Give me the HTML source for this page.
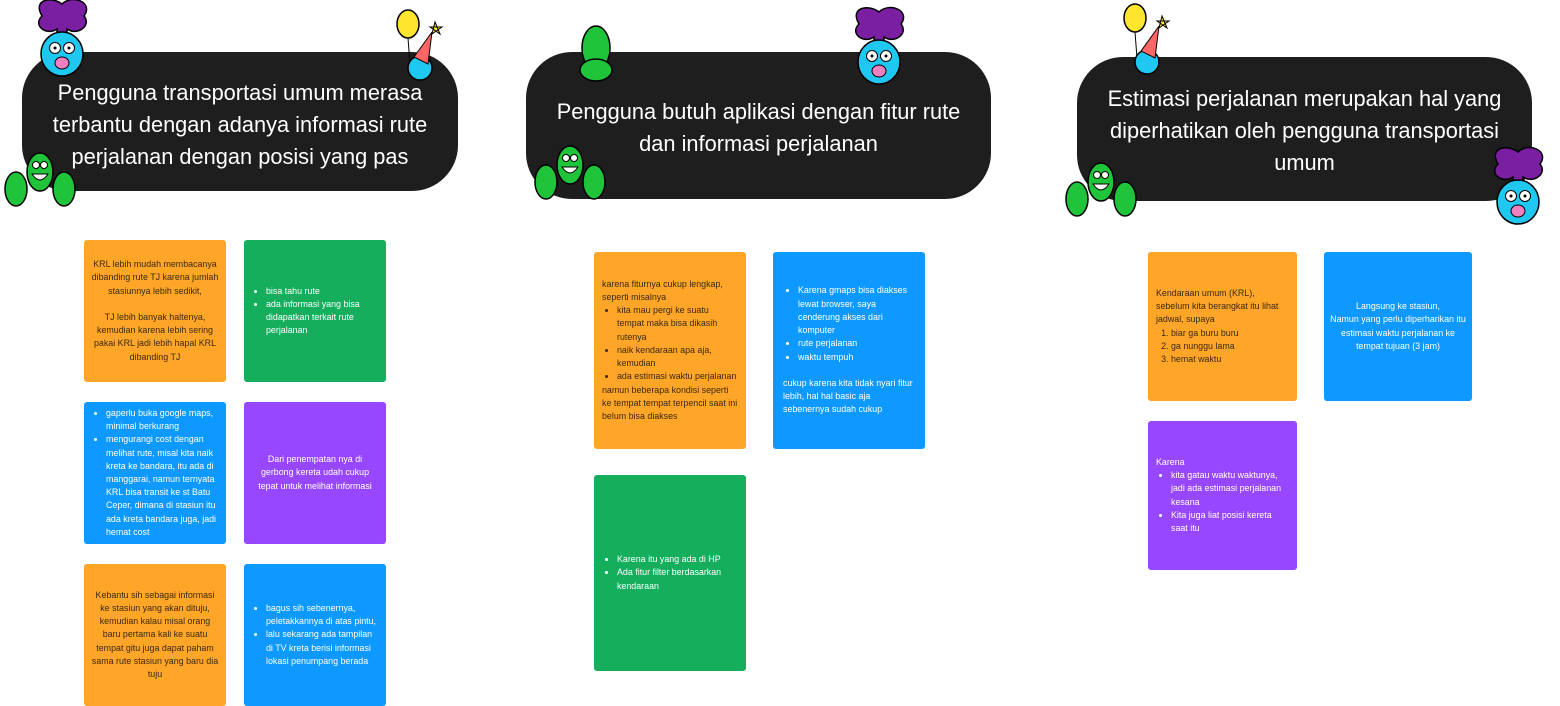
<!DOCTYPE html>
<html><head><meta charset="utf-8"><style>
*{margin:0;padding:0;box-sizing:border-box}
body{width:1560px;height:706px;background:#fff;position:relative;overflow:hidden;font-family:"Liberation Sans",sans-serif}
.h{position:absolute;background:#1e1e1e;color:#fff;border-radius:46px;display:flex;align-items:center;justify-content:center;text-align:center;font-size:21.8px;line-height:32px}
.s{position:absolute;border-radius:3px;font-size:8.9px;line-height:13.2px;display:flex;align-items:center;padding:0 7px;color:#fff}
.s>div{width:100%}
.c{text-align:center;justify-content:center}
.o{background:#FFA629;color:#3a2a10}.g{background:#14AE5C}.b{background:#0D99FF}.p{background:#9747FF}
ul,ol{padding-left:15px}
svg{position:absolute}
</style></head><body>
<div class="h" style="left:22px;top:52px;width:436px;height:139px;padding-top:6px">Pengguna transportasi umum merasa<br>terbantu dengan adanya informasi rute<br>perjalanan dengan posisi yang pas</div>
<div class="h" style="left:526px;top:52px;width:465px;height:147px;padding-top:4px">Pengguna butuh aplikasi dengan fitur rute<br>dan informasi perjalanan</div>
<div class="h" style="left:1077px;top:57px;width:455px;height:144px;padding-top:4px">Estimasi perjalanan merupakan hal yang<br>diperhatikan oleh pengguna transportasi<br>umum</div>

<svg width="1560" height="240" style="left:0;top:0">
<defs>
<g id="blue"><path d="M-20,-28 C-30,-45 -10,-48 0,-40 C10,-50 32,-42 22,-28 C30,-18 15,-8 5,-15 L5,-5 L-5,-5 L-5,-15 C-15,-8 -30,-18 -20,-28Z" fill="#7b1fa2" stroke="#000" stroke-width="1.5"/><ellipse cx="0" cy="10" rx="21" ry="22" fill="#1ec8f0" stroke="#000" stroke-width="1.5"/><circle cx="-7" cy="4" r="5.5" fill="#fff" stroke="#000"/><circle cx="7" cy="4" r="5.5" fill="#fff" stroke="#000"/><circle cx="-7" cy="4" r="1.5"/><circle cx="7" cy="4" r="1.5"/><ellipse cx="0" cy="19" rx="7" ry="6" fill="#f080c0" stroke="#000"/></g>
<g id="green"><ellipse cx="0" cy="0" rx="13" ry="19" fill="#1fc43a" stroke="#000" stroke-width="1.5"/><circle cx="-4" cy="-7" r="3.5" fill="#fff" stroke="#000"/><circle cx="4" cy="-7" r="3.5" fill="#fff" stroke="#000"/><path d="M-8,2 Q0,14 8,2Z" fill="#fff" stroke="#000"/><ellipse cx="-24" cy="17" rx="11" ry="17" fill="#1fc43a" stroke="#000" stroke-width="1.5"/><ellipse cx="24" cy="17" rx="11" ry="17" fill="#1fc43a" stroke="#000" stroke-width="1.5"/></g>
<g id="ball"><ellipse cx="0" cy="0" rx="11" ry="14" fill="#ffe52e" stroke="#000" stroke-width="1.5"/><path d="M0,14 L2,40" stroke="#000" fill="none"/><circle cx="12" cy="44" r="12" fill="#1ec8f0" stroke="#000" stroke-width="1.5"/><path d="M6,33 L24,8 L20,40Z" fill="#f66" stroke="#000"/><path d="M27,-2 l5,12 l-10,-7 h12 l-10,7Z" fill="#ffe52e" stroke="#000"/></g>
</defs>
<use href="#blue" x="62" y="44"/>
<use href="#ball" x="408" y="24"/>
<use href="#green" x="40" y="172"/>
<use href="#green" x="570" y="165"/>
<g transform="translate(596,48)"><ellipse cx="0" cy="0" rx="14" ry="22" fill="#1fc43a" stroke="#000" stroke-width="1.5"/><ellipse cx="0" cy="22" rx="16" ry="11" fill="#1fc43a" stroke="#000" stroke-width="1.5"/></g>
<use href="#blue" x="879" y="52"/>
<use href="#ball" x="1135" y="18"/>
<use href="#green" x="1101" y="182"/>
<use href="#blue" x="1518" y="192"/>
</svg>

<div class="s o c" style="left:84px;top:240px;width:142px;height:142px"><div>KRL lebih mudah membacanya dibanding rute TJ karena jumlah stasiunnya lebih sedikit,<br><br>TJ lebih banyak haltenya, kemudian karena lebih sering pakai KRL jadi lebih hapal KRL dibanding TJ</div></div>
<div class="s g" style="left:244px;top:240px;width:142px;height:142px"><div><ul><li>bisa tahu rute</li><li>ada informasi yang bisa didapatkan terkait rute perjalanan</li></ul></div></div>
<div class="s b" style="left:84px;top:402px;width:142px;height:142px"><div><ul><li>gaperlu buka google maps, minimal berkurang</li><li>mengurangi cost dengan melihat rute, misal kita naik kreta ke bandara, itu ada di manggarai, namun ternyata KRL bisa transit ke st Batu Ceper, dimana di stasiun itu ada kreta bandara juga, jadi hemat cost</li></ul></div></div>
<div class="s p c" style="left:244px;top:402px;width:142px;height:142px"><div>Dari penempatan nya di gerbong kereta udah cukup tepat untuk melihat informasi</div></div>
<div class="s o c" style="left:84px;top:564px;width:142px;height:142px"><div>Kebantu sih sebagai informasi ke stasiun yang akan dituju, kemudian kalau misal orang baru pertama kali ke suatu tempat gitu juga dapat paham sama rute stasiun yang baru dia tuju</div></div>
<div class="s b" style="left:244px;top:564px;width:142px;height:142px"><div><ul><li>bagus sih sebenernya, peletakkannya di atas pintu,</li><li>lalu sekarang ada tampilan di TV kreta berisi informasi lokasi penumpang berada</li></ul></div></div>

<div class="s o" style="left:594px;top:252px;width:152px;height:197px;padding:0 8px 0 8px"><div>karena fiturnya cukup lengkap, seperti misalnya<ul><li>kita mau pergi ke suatu tempat maka bisa dikasih rutenya</li><li>naik kendaraan apa aja, kemudian</li><li>ada estimasi waktu perjalanan</li></ul>namun beberapa kondisi seperti ke tempat tempat terpencil saat ini belum bisa diakses</div></div>
<div class="s b" style="left:773px;top:252px;width:152px;height:197px;padding:0 10px"><div><ul><li>Karena gmaps bisa diakses lewat browser, saya cenderung akses dari komputer</li><li>rute perjalanan</li><li>waktu tempuh</li></ul><br>cukup karena kita tidak nyari fitur lebih, hal hal basic aja sebenernya sudah cukup</div></div>
<div class="s g" style="left:594px;top:475px;width:152px;height:196px;padding:0 8px"><div><ul><li>Karena itu yang ada di HP</li><li>Ada fitur filter berdasarkan kendaraan</li></ul></div></div>

<div class="s o" style="left:1148px;top:252px;width:149px;height:149px;padding:0 8px"><div>Kendaraan umum (KRL), sebelum kita berangkat itu lihat jadwal, supaya<ol><li>biar ga buru buru</li><li>ga nunggu lama</li><li>hemat waktu</li></ol></div></div>
<div class="s b c" style="left:1324px;top:252px;width:148px;height:149px;padding:0 6px"><div>Langsung ke stasiun,<br>Namun yang perlu diperharikan itu estimasi waktu perjalanan ke tempat tujuan (3 jam)</div></div>
<div class="s p" style="left:1148px;top:421px;width:149px;height:149px;padding:0 8px"><div>Karena<ul><li>kita gatau waktu waktunya, jadi ada estimasi perjalanan kesana</li><li>Kita juga liat posisi kereta saat itu</li></ul></div></div>
</body></html>
